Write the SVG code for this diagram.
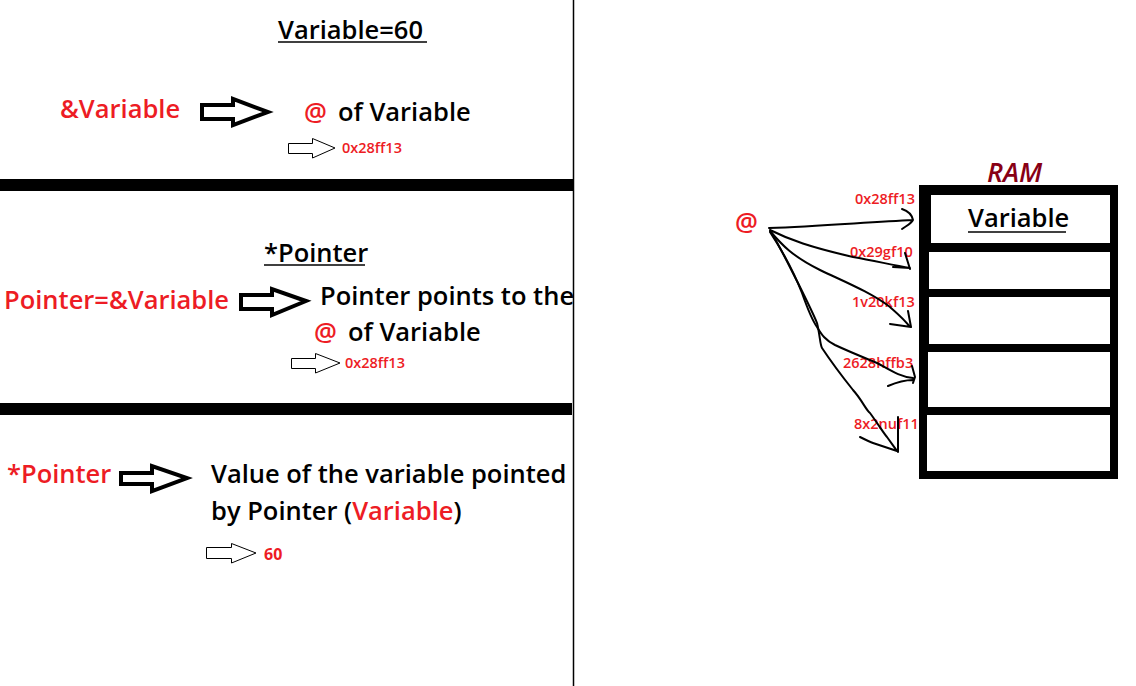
<svg xmlns="http://www.w3.org/2000/svg" width="1136" height="686" viewBox="0 0 1136 686">
<style>
text{font-family:"Open Sans","Noto Sans","DejaVu Sans",sans-serif;font-weight:600;}
.b{fill:#000;font-size:25.5px;}
.r{fill:#ed1c24;font-size:25.5px;}
.s{fill:#ed1c24;font-size:14.5px;}
.big{fill:#fff;stroke:#000;stroke-width:4;stroke-linejoin:miter;}
.sm{fill:#fff;stroke:#000;stroke-width:1;}
.hd{fill:none;stroke:#000;stroke-width:2;stroke-linecap:round;stroke-linejoin:round;}
.u{stroke:#000;stroke-width:1.5;}
</style>
<rect width="1136" height="686" fill="#fff"/>
<g id="dividers">
<line x1="573.5" y1="0" x2="573.5" y2="686" stroke="#000" stroke-width="1.5"/>
<rect x="0" y="179" width="573" height="12" fill="#000"/>
<rect x="0" y="403" width="572" height="12" fill="#000"/>
</g>
<g id="section1">
<text class="b" x="278" y="39">Variable=60</text>
<line class="u" x1="278" y1="42" x2="427" y2="42"/>
<text class="r" x="60" y="118">&amp;Variable</text>
<polygon class="big" points="202,105 233,105 233,99 268,112 233,125 233,119 202,119"/>
<text class="r" x="304" y="121">@</text>
<text class="b" x="338" y="121">of Variable</text>
<polygon class="sm" points="288.5,143.5 312.5,143.5 312.5,138.5 335,148 312.5,158 312.5,153.5 288.5,153.5"/>
<text class="s" x="342" y="153">0x28ff13</text>
</g>
<g id="section2">
<text class="b" x="264" y="262">*Pointer</text>
<line class="u" x1="264" y1="265" x2="365" y2="265"/>
<text class="r" x="4" y="309">Pointer=&amp;Variable</text>
<polygon class="big" points="241,295 272,295 272,289 306,301 272,315 272,309 241,309"/>
<text class="b" x="320" y="305">Pointer points to the</text>
<text class="r" x="314" y="341">@</text>
<text class="b" x="348" y="341">of Variable</text>
<polygon class="sm" points="291.5,358.5 315.5,358.5 315.5,353.5 340,363 315.5,373 315.5,368.5 291.5,368.5"/>
<text class="s" x="345" y="368">0x28ff13</text>
</g>
<g id="section3">
<text class="r" x="7" y="483">*Pointer</text>
<polygon class="big" points="121,473 152,473 152,466 187,478 152,491 152,484 121,484"/>
<text class="b" x="211" y="483">Value of the variable pointed</text>
<text class="b" x="211" y="520">by Pointer (<tspan fill="#ed1c24">Variable</tspan>)</text>
<polygon class="sm" points="206.5,547.5 231.5,547.5 231.5,543.5 256,553 231.5,563 231.5,558.5 206.5,558.5"/>
<text class="s" x="264" y="560" style="font-size:16px;font-weight:700">60</text>
</g>
<g id="ram">
<text x="987" y="182" style="fill:#880015;font-size:27px;font-style:italic">RAM</text>
<rect x="919" y="185" width="199" height="294" fill="#000"/>
<rect x="931" y="195" width="179" height="48" fill="#fff"/>
<rect x="929" y="252" width="181" height="37" fill="#fff"/>
<rect x="929" y="297" width="181" height="47" fill="#fff"/>
<rect x="928" y="352" width="182" height="55" fill="#fff"/>
<rect x="927" y="415" width="183" height="56" fill="#fff"/>
<text class="b" x="968" y="227">Variable</text>
<line class="u" x1="968" y1="232" x2="1066" y2="232"/>
</g>
<g id="at">
<text class="r" x="735" y="231">@</text>
</g>
<g id="labels">
<text class="s" x="855" y="204">0x28ff13</text>
<text class="s" x="850" y="257">0x29gf10</text>
<text class="s" x="852" y="307">1v20kf13</text>
<text class="s" x="843" y="368">2628hffb3</text>
<text class="s" x="854" y="429">8x2nuf11</text>
</g>
<g id="connectors">
<path class="hd" d="M769,228 C820,226 870,222 913,220 M902,209 C908,211 912,215 913,220 C911,224 906,226 902,229"/>
<path class="hd" d="M770,230 C790,240 810,247 853,257 C875,261 893,265 910,268 M905,253 L910,269 M893,267 L910,268"/>
<path class="hd" d="M770,231 C782,245 792,256 820,270 C845,282 870,292 890,307 C898,314 905,320 910,327 M908,311 L911,327 M890,324 L911,327"/>
<path class="hd" d="M770,232 C785,255 795,275 802,293 C808,310 812,320 817,327 C822,335 825,340 835,345 C850,352 865,358 877,363 C890,370 900,377 913,378 M912,366 L915,377 L913,383 M888,386 C895,383 902,380 913,380"/>
<path class="hd" d="M771,232 C782,250 790,268 798,283 C808,303 815,318 817,323 C820,335 820,345 822,348 C830,360 845,380 853,390 C862,400 866,410 870,413 C878,424 885,435 887,437 C892,444 895,448 897,451 M898,417 L898,452 M860,437 C866,440 870,442 873,443 L897,451"/>
</g>
</svg>
